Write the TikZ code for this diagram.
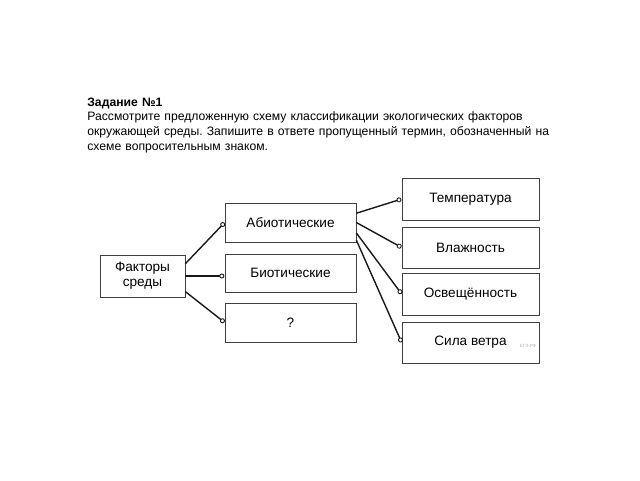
\documentclass[tikz,border=0pt]{standalone}
\usepackage{fontspec}
\setmainfont{Liberation Sans}
\usepackage{tikz}
\usetikzlibrary{arrows.meta}
\frenchspacing

\begin{document}
\begin{tikzpicture}[x=1pt,y=-1pt,
  every node/.style={rectangle,draw=black!75,line width=0.7pt,align=center,font=\fontsize{13.6}{15}\selectfont},
  link/.style={-{Circle[open,length=5pt,width=5pt,line width=0.9pt]},line width=1.4pt,black!90,shorten >=0.3pt}]
  \useasboundingbox (0,0) rectangle (640,480);
  \node[draw=none,anchor=north west,align=left,text width=500pt,inner sep=0pt,
        font=\fontsize{12.2}{14.6}\selectfont] (task) at (87,97.5)
    {\textbf{Задание №1}\\
     Рассмотрите предложенную схему классификации экологических факторов\\
     окружающей среды. Запишите в ответе пропущенный термин, обозначенный на\\
     схеме вопросительным знаком.};
  \node[minimum width=85pt,minimum height=42pt] (fac) at (142.5,276) {Факторы\\среды};
  \node[minimum width=131pt,minimum height=39pt] (abio) at (290.5,222.5) {Абиотические};
  \node[minimum width=131pt,minimum height=38pt] (bio) at (290.5,273) {Биотические};
  \node[minimum width=131pt,minimum height=39pt] (q) at (290.5,322.5) {?};
  \node[minimum width=137pt,minimum height=42pt] (temp) at (470.5,199) {Температура};
  \node[minimum width=137pt,minimum height=41pt] (wet) at (470.5,247.5) {Влажность};
  \node[minimum width=137pt,minimum height=42pt] (light) at (470.5,294) {Освещённость};
  \node[minimum width=137pt,minimum height=41pt] (wind) at (470.5,342.5) {Сила ветра};
  \node[draw=none,inner sep=0pt,text=black!30,font=\fontsize{4.5}{5}\selectfont] (mark) at (528,346) {ЕГЭ.РФ};
  % from the root
  \draw[link] (fac.16) -- (abio.west);
  \draw[link] (fac.east) -- (fac.east -| bio.west);
  \draw[link] (fac.-20) -- (q.west);
  % abiotic factors
  \draw[link] (abio.8) -- (temp.west);
  \draw[link] (abio.east) -- (wet.west);
  \draw[link] (abio.-9) -- (light.west);
  \draw[link] (abio.-15) -- (wind.west);
\end{tikzpicture}
\end{document}
